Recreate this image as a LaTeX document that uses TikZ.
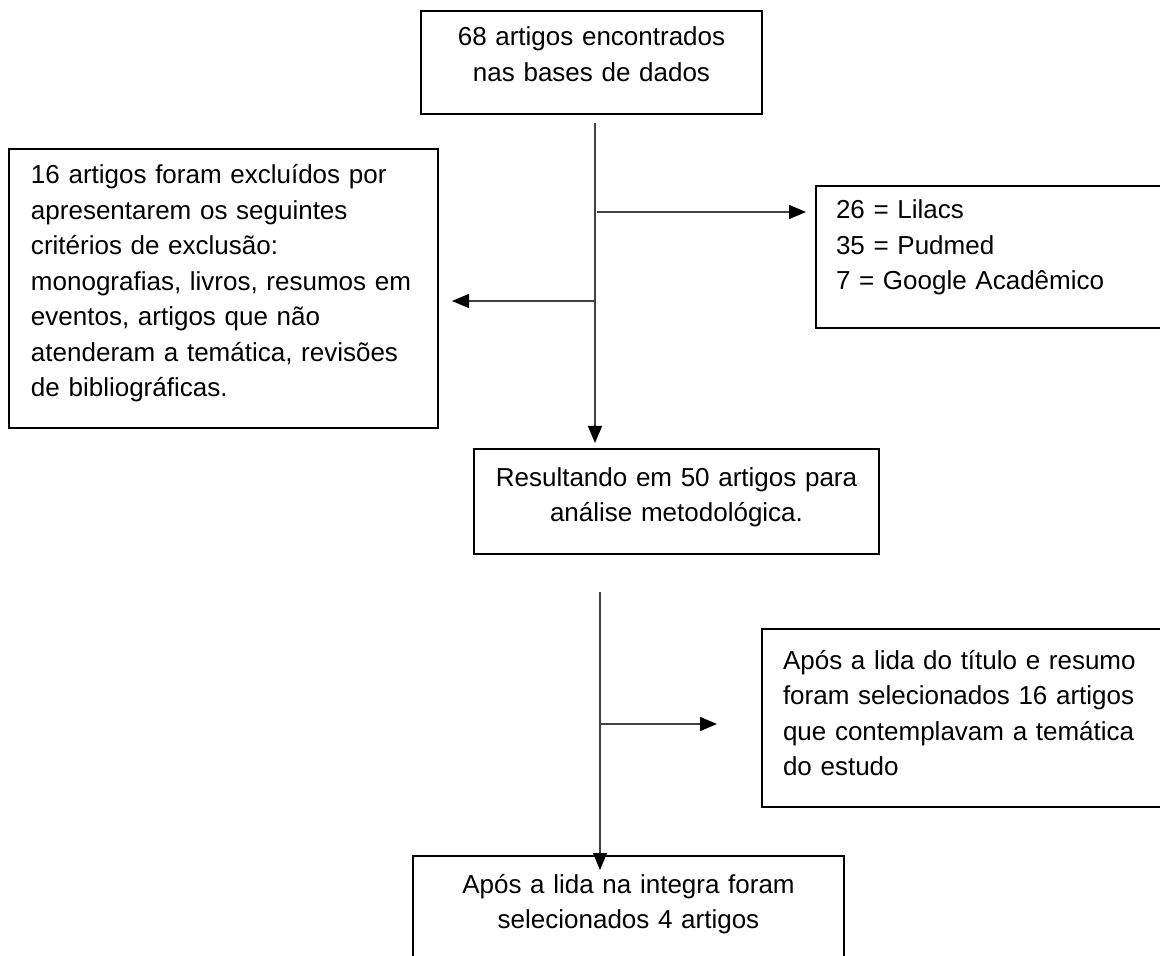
\documentclass[tikz,border=0pt]{standalone}
\usepackage{fontspec}
\setmainfont{Liberation Sans}
\usepackage{tikz}
\usetikzlibrary{arrows.meta}
\usetikzlibrary{calc}

\tikzset{
    box/.style={draw, line width=1pt, anchor=north west, inner ysep=0pt,
        font=\fontsize{13pt}{17.75pt}\selectfont},
    flow/.style={line width=0.65pt, black!75, -{Triangle[length=8.5pt, width=7pt, color=black]}}
}

\begin{document}
\begin{tikzpicture}[x=0.5pt, y=-0.5pt]
            \useasboundingbox (0,0) rectangle (1160,956);
            \clip (0,0) rectangle (1160,956);

            % Boxes
            \node[box, align=center, inner xsep=5pt, text width=160.5pt, text height=17.5pt, text depth=34pt] (found) at (420,10)
                {68 artigos encontrados\\nas bases de dados};
            \node[box, align=left, inner xsep=11pt, text width=192.5pt, text height=17.5pt, text depth=122pt] (excl) at (8,148)
                {16 artigos foram excluídos por\\apresentarem os seguintes\\critérios de exclusão:\\monografias, livros, resumos em\\eventos, artigos que não\\atenderam a temática, revisões\\de bibliográficas.};
            \node[box, align=left, inner xsep=10pt, text width=160pt, text height=16.5pt, text depth=54.5pt] (bases) at (815,185)
                {26 = Lilacs\\35 = Pudmed\\7 = Google Acadêmico};
            \node[box, align=center, inner xsep=5pt, text width=192.5pt, text height=18.5pt, text depth=34pt] (result) at (473,448)
                {Resultando em 50 artigos para\\análise metodológica.};
            \node[box, align=left, inner xsep=10.5pt, text width=189pt, text height=20pt, text depth=69pt] (selec) at (761,628)
                {Após a lida do título e resumo\\foram selecionados 16 artigos\\que contemplavam a temática\\do estudo};
            \node[box, align=center, inner xsep=5pt, text width=205.5pt, text height=18.5pt, text depth=46.5pt] (final) at (412,855)
                {Após a lida na integra foram\\selecionados 4 artigos};

            % Main line from the search to the result
            \coordinate (top1) at (595,123);
            \coordinate (br1) at (597,212);
            \coordinate (br2) at (595,301);
            \draw[flow, shorten >=5pt/2] (top1) -- (top1 |- result.north);
            \draw[flow, shorten >=4.5pt] (br1) -- (br1 -| bases.west);
            \draw[flow, shorten >=6.5pt] (br2) -- (br2 -| excl.east);

            % Second line down to the final selection
            \coordinate (top2) at (600,592);
            \coordinate (br3) at (601,724);
            \draw[flow, shorten >=-7.5pt] (top2) -- (top2 |- final.north);
            \draw[flow, shorten >=22pt] (br3) -- (br3 -| selec.west);

        \end{tikzpicture}
\end{document}
